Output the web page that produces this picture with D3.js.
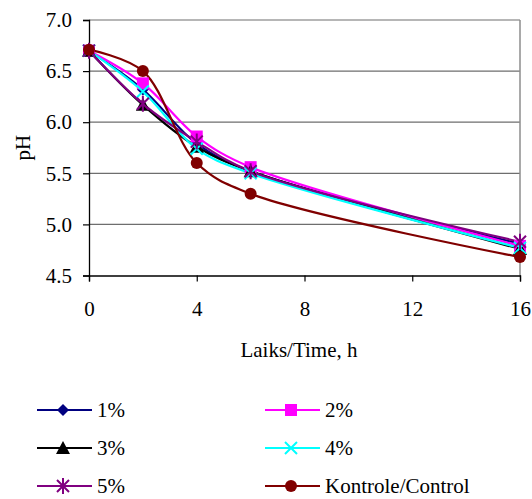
<!DOCTYPE html>
<html>
<head>
<meta charset="utf-8">
<script src="https://cdn.jsdelivr.net/npm/d3@7"></script>
<style>
  body { margin: 0; background: #fff; }
  svg text { font-family: "Liberation Serif", "Times New Roman", serif; fill: #000; }
</style>
</head>
<body>
<script>
// hours
var hours = [0, 2, 4, 6, 16];
// pH per series
var ph1 = [6.70, 6.32, 5.79, 5.52, 4.81];
var ph2 = [6.70, 6.38, 5.86, 5.56, 4.79];
var ph3 = [6.70, 6.17, 5.76, 5.52, 4.76];
var ph4 = [6.70, 6.30, 5.74, 5.50, 4.77];
var ph5 = [6.70, 6.18, 5.81, 5.52, 4.83];
var phControl = [6.71, 6.50, 5.60, 5.30, 4.68];
var seriesNames = ["1%", "2%", "3%", "4%", "5%", "Kontrole/Control"];
var xTicks = [0, 4, 8, 12, 16];
var yTicks = [4.5, 5.0, 5.5, 6.0, 6.5, 7.0];

var width = 532, height = 499;
var margin = {top: 20, right: 12, bottom: 223.5, left: 89};
var plotW = width - margin.left - margin.right,
    plotH = height - margin.top - margin.bottom;
var fontSize = "21px";

var svg = d3.select("body").append("svg")
    .attr("width", width)
    .attr("height", height);

var x = d3.scaleLinear().domain([0, 16]).range([margin.left, margin.left + plotW]);
var y = d3.scaleLinear().domain([4.5, 7.0]).range([margin.top + plotH, margin.top]);

// gridlines
svg.append("g").selectAll("line")
   .data(yTicks.slice(1))
   .enter().append("line")
   .attr("x1", x(0)).attr("x2", x(16))
   .attr("y1", function(d){ return y(d); })
   .attr("y2", function(d){ return y(d); })
   .attr("stroke", "#6e6e6e")
   .attr("stroke-width", 1.2);

// right frame
svg.append("line")
   .attr("x1", x(16)).attr("x2", x(16))
   .attr("y1", y(7)).attr("y2", y(4.5))
   .attr("stroke", "#8c8c8c").attr("stroke-width", 1.5);

// axes
var yAxis = d3.axisLeft(y).tickValues(yTicks).tickSize(6).tickPadding(11)
    .tickFormat(d3.format(".1f"));
var gy = svg.append("g").attr("transform", "translate(" + x(0) + ",0)").call(yAxis);
gy.select(".domain").attr("stroke", "#000").attr("stroke-width", 1.3);
gy.selectAll(".tick line").attr("stroke", "#000").attr("stroke-width", 1.2);
gy.selectAll("text").style("font-size", fontSize).attr("fill", "#000")
  .style("font-family", "Liberation Serif, serif");

var xAxis = d3.axisBottom(x).tickValues(xTicks).tickSize(6).tickPadding(20)
    .tickFormat(d3.format("d"));
var gx = svg.append("g").attr("transform", "translate(0," + y(4.5) + ")").call(xAxis);
gx.select(".domain").attr("stroke", "#000").attr("stroke-width", 1.3);
gx.selectAll(".tick line").attr("stroke", "#000").attr("stroke-width", 1.2);
gx.selectAll("text").style("font-size", fontSize).attr("fill", "#000")
  .style("font-family", "Liberation Serif, serif");

// axis titles
svg.append("text")
   .attr("transform", "translate(30," + (margin.top + plotH / 2) + ") rotate(-90)")
   .attr("text-anchor", "middle")
   .style("font-size", fontSize)
   .text("pH");

svg.append("text")
   .attr("x", 299).attr("y", 357)
   .attr("text-anchor", "middle")
   .style("font-size", fontSize)
   .text("Laiks/Time, h");

var series = [
  {name: seriesNames[0], values: ph1, color: "#000080", marker: "diamond"},
  {name: seriesNames[1], values: ph2, color: "#ff00ff", marker: "square"},
  {name: seriesNames[2], values: ph3, color: "#000000", marker: "triangle"},
  {name: seriesNames[3], values: ph4, color: "#00ffff", marker: "x"},
  {name: seriesNames[4], values: ph5, color: "#800080", marker: "star"},
  {name: seriesNames[5], values: phControl, color: "#800000", marker: "circle"}
];

function drawMarker(g, type, color) {
  if (type == "diamond") {
    g.append("path").attr("d", "M0,-6L6,0L0,6L-6,0Z").attr("fill", color);
  } else if (type == "square") {
    g.append("rect").attr("x", -6).attr("y", -6).attr("width", 12).attr("height", 12).attr("fill", color);
  } else if (type == "triangle") {
    g.append("path").attr("d", "M0,-7L7,6L-7,6Z").attr("fill", color);
  } else if (type == "x") {
    g.append("path").attr("d", "M-6,-6L6,6M-6,6L6,-6").attr("stroke", color).attr("stroke-width", 2);
  } else if (type == "star") {
    g.append("path").attr("d", "M-6,-6L6,6M-6,6L6,-6M0,-8L0,8")
     .attr("stroke", color).attr("stroke-width", 2);
  } else if (type == "circle") {
    g.append("circle").attr("r", 6).attr("fill", color);
  }
}

var line = d3.line()
    .x(function(d){ return x(d[0]); })
    .y(function(d){ return y(d[1]); })
    .curve(d3.curveCatmullRom.alpha(0.5));

series.forEach(function(s){
  var pts = hours.map(function(h, i){ return [h, s.values[i]]; });
  svg.append("path")
     .datum(pts)
     .attr("d", line)
     .attr("fill", "none")
     .attr("stroke", s.color)
     .attr("stroke-width", 2.2);
});

series.forEach(function(s){
  hours.forEach(function(h, i){
    var g = svg.append("g").attr("transform", "translate(" + x(h) + "," + y(s.values[i]) + ")");
    drawMarker(g, s.marker, s.color);
  });
});

// legend (rows nudged up a little so the last row's text is not clipped)
var legendPos = [[37, 410], [265, 410], [37, 448], [265, 448], [37, 486], [265, 486]];
series.forEach(function(s, i){
  var lx = legendPos[i][0], ly = legendPos[i][1];
  svg.append("line")
     .attr("x1", lx).attr("x2", lx + 55)
     .attr("y1", ly).attr("y2", ly)
     .attr("stroke", s.color).attr("stroke-width", 2);
  var g = svg.append("g").attr("transform", "translate(" + (lx + 26) + "," + ly + ")");
  drawMarker(g, s.marker, s.color);
  svg.append("text")
     .attr("x", lx + 60).attr("y", ly + 7)
     .style("font-size", fontSize)
     .text(s.name);
});
</script>
</body>
</html>
